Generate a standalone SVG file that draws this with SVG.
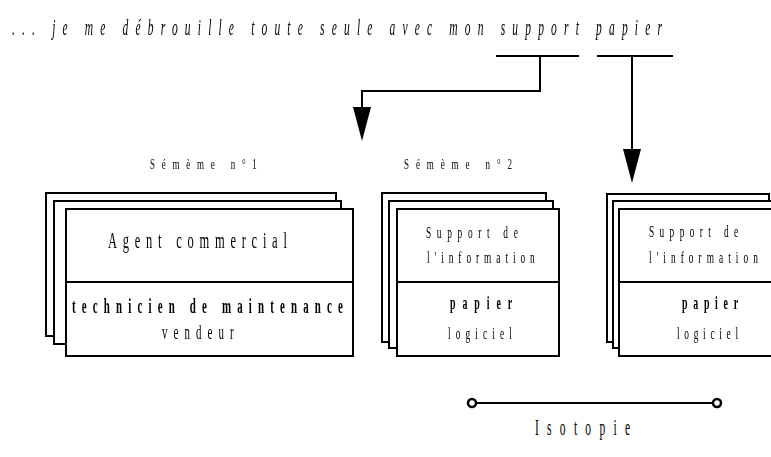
<svg xmlns="http://www.w3.org/2000/svg" width="771" height="457" viewBox="0 0 771 457">
  <style>
    .sheet { fill: #ffffff; stroke: #000000; stroke-width: 2; }
    .rule { stroke: #000000; stroke-width: 2; fill: none; }
    .wire { stroke: #000000; stroke-width: 2; fill: none; }
    .t { font-family: "Liberation Serif", "DejaVu Serif", serif; fill: #000000; }
    .b { font-weight: bold; }
    .i { font-style: italic; }
    .labels { opacity: 0.999; }
  </style>
  <defs>
    <marker id="head" markerUnits="userSpaceOnUse" markerWidth="36" markerHeight="22" refX="0" refY="9" orient="auto" viewBox="0 0 36 18">
      <path d="M0,0 L34,9 L0,18 Z" fill="#000000"/>
    </marker>
  </defs>

  <rect width="771" height="457" fill="#ffffff"/>

  <g class="labels">
    <!-- sentence being analysed -->
    <text class="t i" font-size="24" transform="translate(12,35) scale(0.48,1)" textLength="1354" lengthAdjust="spacing">... je me débrouille toute seule avec mon support papier</text>

    <!-- sememe headings -->
    <text class="t" font-size="15" transform="translate(150,169) scale(0.6,1)" textLength="178" lengthAdjust="spacing">Sémème n°1</text>
    <text class="t" font-size="15" transform="translate(404,169) scale(0.6,1)" textLength="180" lengthAdjust="spacing">Sémème n°2</text>
  </g>

  <!-- connectors -->
  <g id="connectors">
    <path class="wire" d="M496,56 H579"/>
    <path class="wire" d="M540,56 V91 H362 V107" marker-end="url(#head)"/>
    <path class="wire" d="M597,56 H673"/>
    <path class="wire" d="M632,56 V149" marker-end="url(#head)"/>
    <path class="wire" d="M472,403 H717"/>
    <circle cx="472" cy="403" r="4" fill="#ffffff" stroke="#000000" stroke-width="2.5"/>
    <circle cx="717" cy="403" r="4" fill="#ffffff" stroke="#000000" stroke-width="2.5"/>
  </g>

  <!-- sememe 1 -->
  <g id="semem1">
    <rect class="sheet" x="46" y="193" width="290" height="143"/>
    <rect class="sheet" x="54" y="201" width="287" height="143"/>
    <rect class="sheet" x="66" y="209" width="287" height="147"/>
    <line class="rule" x1="66" y1="282" x2="353" y2="282"/>
    <g class="labels">
      <text class="t" font-size="24" transform="translate(108,248) scale(0.52,1)" textLength="344" lengthAdjust="spacing">Agent commercial</text>
      <text class="t b" font-size="21" transform="translate(72,313) scale(0.52,1)" textLength="521" lengthAdjust="spacing">technicien de maintenance</text>
      <text class="t" font-size="21" transform="translate(162,339) scale(0.52,1)" textLength="138" lengthAdjust="spacing">vendeur</text>
    </g>
  </g>

  <!-- sememe 2 -->
  <g id="semem2">
    <rect class="sheet" x="382" y="193" width="164" height="149"/>
    <rect class="sheet" x="389" y="201" width="164" height="147"/>
    <rect class="sheet" x="397" y="209" width="162" height="147"/>
    <line class="rule" x1="397" y1="282" x2="559" y2="282"/>
    <g class="labels">
      <text class="t" font-size="17" transform="translate(426,238) scale(0.55,1)" textLength="167" lengthAdjust="spacing">Support de</text>
      <text class="t" font-size="17" transform="translate(427,263) scale(0.55,1)" textLength="196" lengthAdjust="spacing">l'information</text>
      <text class="t b" font-size="18" transform="translate(450,309) scale(0.55,1)" textLength="113" lengthAdjust="spacing">papier</text>
      <text class="t" font-size="17" transform="translate(448,339) scale(0.55,1)" textLength="116" lengthAdjust="spacing">logiciel</text>
    </g>
  </g>

  <!-- sememe 3 -->
  <g id="semem3">
    <rect class="sheet" x="607" y="194" width="162" height="148"/>
    <rect class="sheet" x="613" y="201" width="170" height="147"/>
    <rect class="sheet" x="619" y="209" width="170" height="147"/>
    <line class="rule" x1="619" y1="282" x2="789" y2="282"/>
    <g class="labels">
      <text class="t" font-size="17" transform="translate(649,237) scale(0.55,1)" textLength="162" lengthAdjust="spacing">Support de</text>
      <text class="t" font-size="17" transform="translate(649,263) scale(0.55,1)" textLength="198" lengthAdjust="spacing">l'information</text>
      <text class="t b" font-size="18" transform="translate(682,309) scale(0.55,1)" textLength="102" lengthAdjust="spacing">papier</text>
      <text class="t" font-size="17" transform="translate(677,339) scale(0.55,1)" textLength="111" lengthAdjust="spacing">logiciel</text>
    </g>
  </g>

  <!-- isotopy label -->
  <g id="isotopie" class="labels">
    <text class="t" font-size="23" transform="translate(535,435) scale(0.5,1)" textLength="190" lengthAdjust="spacing">Isotopie</text>
  </g>
</svg>
